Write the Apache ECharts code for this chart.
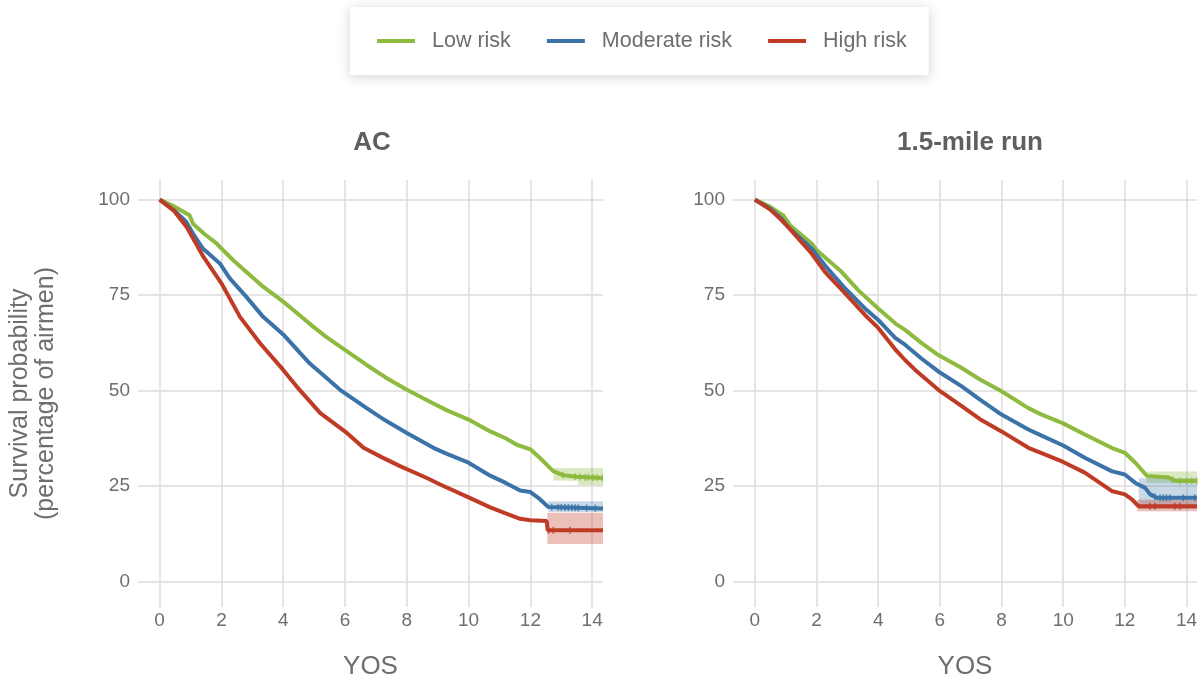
<!DOCTYPE html>
<html><head><meta charset="utf-8">
<script src="https://cdn.jsdelivr.net/npm/echarts@6/dist/echarts.min.js"></script>
<style>html,body{margin:0;padding:0;background:#fff}#c{width:1204px;height:685px}</style>
</head><body><div id="c"></div>
<script>
// ---- data ----
const seriesNames = ['Low risk', 'Moderate risk', 'High risk'];
const panelTitles = ['AC', '1.5-mile run'];
const xTicks = [0, 2, 4, 6, 8, 10, 12, 14];
const yTicks = [0, 25, 50, 75, 100];
const xAxisName = 'YOS';
const yAxisName = 'Survival probability\n(percentage of airmen)';

// AC panel: [YOS, survival %]
const acLow = [[0,100],[0.5,98.1],[0.97,95.9],[1.08,93.7],[1.45,91],[1.85,88.5],[2.0,87.2],[2.4,84],[2.8,81.1],[3.35,77.2],[4.0,73.3],[4.55,69.6],[4.9,67.2],[5.4,64],[5.95,60.9],[6.7,56.7],[7.3,53.5],[8.0,50.2],[8.86,46.6],[9.3,44.8],[10.0,42.4],[10.7,39.3],[11.2,37.5],[11.56,35.8],[12.0,34.6],[12.3,32.4],[12.74,28.9],[13.07,27.8],[13.5,27.4],[14.35,27.1]];
const acMod = [[0,100],[0.5,97],[0.86,94.2],[1.08,91.1],[1.4,87.2],[1.95,83.3],[2.27,79.4],[2.8,74.6],[3.35,69.3],[4.0,64.7],[4.55,59.8],[4.87,57],[5.2,54.7],[5.84,50.2],[6.7,45.4],[7.3,42.2],[8.0,38.9],[8.86,35],[9.3,33.4],[10.0,31.1],[10.7,27.7],[11.2,25.8],[11.67,23.8],[12.0,23.4],[12.3,21.6],[12.58,19.5],[14.35,19.1]];
const acHigh = [[0,100],[0.45,97.2],[0.88,92.8],[1.42,85],[2.0,78.1],[2.6,69.3],[3.25,62.4],[4.0,55.4],[4.43,51.1],[5.2,44.1],[6.06,38.9],[6.6,35],[7.2,32.5],[7.78,30.2],[8.65,27.1],[9.08,25.4],[10.0,22],[10.7,19.4],[11.2,17.8],[11.67,16.4],[12.0,16],[12.53,15.8],[12.56,13.4],[14.35,13.4]];

// 1.5-mile run panel
const runLow = [[0,100],[0.5,98.1],[0.92,95.9],[1.14,93.3],[1.84,88.5],[2.0,86.8],[2.81,81.1],[3.35,76.3],[4.0,71.5],[4.55,67.6],[4.87,65.9],[5.4,62.5],[5.95,59.3],[6.71,55.9],[7.3,52.9],[8.0,49.8],[8.87,45.4],[9.3,43.7],[10.0,41.4],[10.7,38.5],[11.57,35],[12.0,33.7],[12.34,31.1],[12.72,27.6],[13.42,27.2],[13.64,26.3],[14.34,26.3]];
const runMod = [[0,100],[0.5,97.6],[0.87,95],[1.08,92.8],[1.84,87.2],[2.27,82.8],[2.92,76.8],[3.57,71.5],[4.0,68.5],[4.55,63.8],[4.87,62],[5.4,58.4],[5.95,55],[6.71,51.1],[7.3,47.6],[8.0,43.7],[8.87,39.8],[9.3,38.2],[10.0,35.6],[10.7,32.4],[11.57,28.9],[12.0,28],[12.34,25.8],[12.66,24.5],[12.82,22.8],[13.04,21.9],[14.34,21.9]];
const runHigh = [[0,100],[0.5,97.4],[0.87,94.6],[1.08,92.8],[1.84,85.9],[2.27,81.1],[2.92,75.5],[3.57,69.8],[4.0,66.4],[4.55,60.8],[4.87,58],[5.2,55.4],[5.95,50.2],[6.71,45.9],[7.3,42.5],[8.0,39.3],[8.87,35],[9.3,33.6],[10.0,31.3],[10.7,28.5],[11.57,23.7],[12.0,22.8],[12.23,21.5],[12.44,19.7],[14.34,19.7]];

// confidence bands on the tails: [YOS start, YOS end, lower, upper]
const acLowBand = [[12.75,13.55,26.4,29.7],[13.55,14.35,25.2,29.7]];
const acModBand = [[12.58,14.35,18.2,21.0]];
const acHighBand = [[12.55,14.35,9.8,18.0]];
const runLowBand = [[12.7,14.34,25.8,28.8]];
const runModBand = [[12.45,14.34,19.0,27.0]];
const runHighBand = [[12.4,14.34,18.4,21.4]];

// censoring marks (YOS)
const acLowCensor = [13.05,13.45,13.6,13.77,13.87,14.03,14.16,14.32];
const acModCensor = [12.69,12.9,13.0,13.12,13.23,13.34,13.45,13.55,13.82,14.1];
const acHighCensor = [12.58,12.74,13.28];
const runLowCensor = [13.56,13.79,14.0,14.17,14.33];
const runModCensor = [12.97,13.14,13.24,13.35,13.46,13.89,14.27];
const runHighCensor = [12.81,12.97,13.62,13.78];

// ---- style / layout ----
const colors = ['#8dba3f', '#3b73a8', '#c03b26'];
const bandColors = ['rgba(141,186,63,0.32)', 'rgba(59,115,168,0.28)', 'rgba(192,59,38,0.32)'];
const FONT = '"Liberation Sans", Arial, Helvetica, sans-serif';
const TXT = '#6e6e6e';

const panels = [
  {curves:[acLow, acMod, acHigh], bands:[acLowBand, acModBand, acHighBand], censor:[acLowCensor, acModCensor, acHighCensor],
   grid:{left:138, top:180, width:465, height:430}, xMin:-0.7, xMax:14.35, titleX:372},
  {curves:[runLow, runMod, runHigh], bands:[runLowBand, runModBand, runHighBand], censor:[runLowCensor, runModCensor, runHighCensor],
   grid:{left:733, top:180, width:464, height:430}, xMin:-0.71, xMax:14.34, titleX:970}
];

function valueAt(curve, t) {
  for (let i = 1; i < curve.length; i++) {
    if (t <= curve[i][0]) {
      const a = curve[i-1], b = curve[i];
      return a[1] + (b[1]-a[1]) * (t-a[0]) / (b[0]-a[0]);
    }
  }
  return curve[curve.length-1][1];
}

const grids = [], xAxes = [], yAxes = [], series = [], graphics = [];
panels.forEach((p, pi) => {
  grids.push(p.grid);
  xAxes.push({
    gridIndex: pi, type: 'value', min: p.xMin, max: p.xMax,
    axisLine: {show: false}, axisTick: {show: false, customValues: xTicks},
    axisLabel: {customValues: xTicks, fontSize: 19, color: TXT, fontFamily: FONT, margin: 4},
    splitLine: {show: true, lineStyle: {color: '#dcdcdc', width: 1.5}},
    name: xAxisName, nameLocation: 'middle', nameGap: 47,
    nameTextStyle: {fontSize: 26, color: TXT, fontFamily: FONT}
  });
  const ya = {
    gridIndex: pi, type: 'value', min: -6.7, max: 105.15,
    axisLine: {show: false}, axisTick: {show: false, customValues: yTicks},
    axisLabel: {customValues: yTicks, fontSize: 19, color: TXT, fontFamily: FONT, margin: 8},
    splitLine: {show: true, lineStyle: {color: '#dcdcdc', width: 1.5}}
  };
  if (pi === 0) {
    ya.name = yAxisName; ya.nameLocation = 'middle'; ya.nameGap = 79;
    ya.nameTextStyle = {fontSize: 25, color: TXT, fontFamily: FONT, lineHeight: 26};
  }
  yAxes.push(ya);
  graphics.push({type: 'text', style: {text: panelTitles[pi], x: p.titleX, y: 143, align: 'center', verticalAlign: 'middle',
    font: 'bold 26px ' + FONT, fill: '#5f5f5f'}});

  p.bands.forEach((b, si) => {
    series.push({
      type: 'custom', name: 'band', xAxisIndex: pi, yAxisIndex: pi, silent: true, z: 1,
      data: b,
      encode: {x: [0, 1], y: [2, 3]},
      renderItem: function (params, api) {
        const p0 = api.coord([api.value(0), api.value(3)]);
        const p1 = api.coord([api.value(1), api.value(2)]);
        return {type: 'rect', shape: {x: p0[0], y: p0[1], width: p1[0] - p0[0], height: p1[1] - p0[1]},
          style: {fill: bandColors[si]}};
      }
    });
  });
  p.curves.forEach((c, si) => {
    series.push({type: 'line', name: seriesNames[si], xAxisIndex: pi, yAxisIndex: pi, data: c, symbol: 'none',
      color: colors[si], lineStyle: {width: 4, color: colors[si]}, z: 3});
  });
  p.censor.forEach((cs, si) => {
    series.push({type: 'scatter', name: seriesNames[si], xAxisIndex: pi, yAxisIndex: pi, silent: true,
      data: cs.map(t => [t, valueAt(p.curves[si], t)]), symbol: 'rect', symbolSize: [1.6, 7],
      itemStyle: {color: colors[si]}, z: 4});
  });
});

const chart = echarts.init(document.getElementById('c'), null, {renderer: 'canvas'});
chart.setOption({
  animation: false,
  backgroundColor: '#fff',
  legend: {
    data: seriesNames, left: 350, top: 7, padding: [23, 22, 23, 27], itemGap: 36,
    icon: 'rect', itemWidth: 38, itemHeight: 4,
    textStyle: {fontSize: 21.5, color: TXT, fontFamily: FONT, padding: [0, 0, 0, 12]},
    backgroundColor: '#fff', shadowBlur: 12, shadowColor: 'rgba(0,0,0,0.18)', shadowOffsetY: 2,
    selectedMode: false
  },
  grid: grids, xAxis: xAxes, yAxis: yAxes, series: series, graphic: graphics
});
</script></body></html>
